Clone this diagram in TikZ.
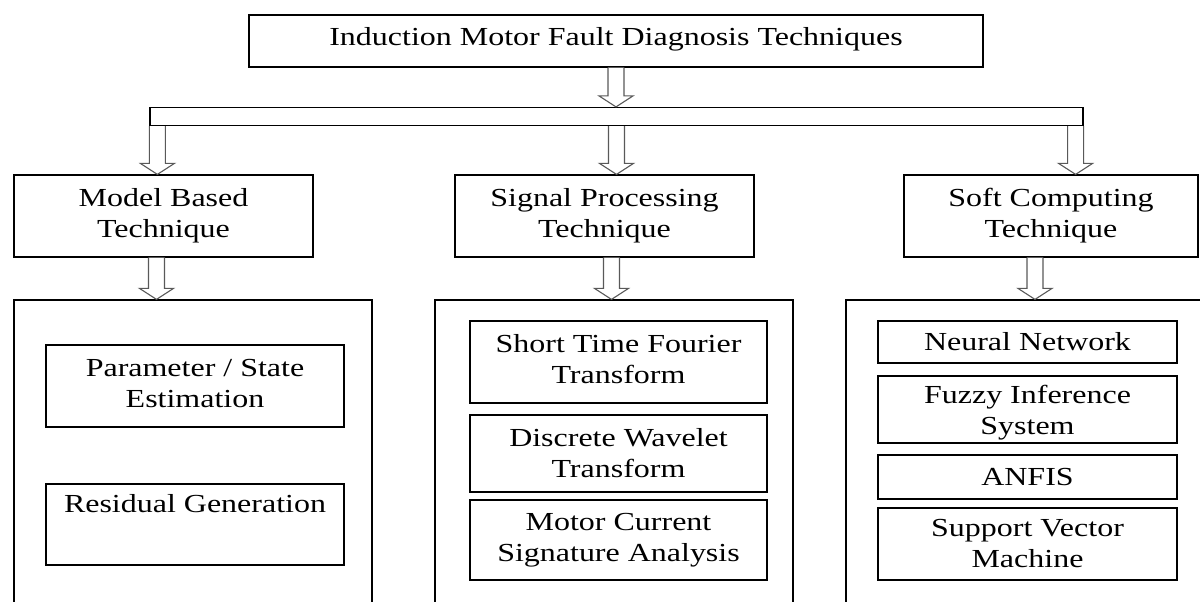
\documentclass[tikz,border=0pt]{standalone}
\usepackage{fontspec}
\setmainfont{Liberation Serif}[FakeStretch=1.23]
\usetikzlibrary{calc}

% hollow downward block arrow: x taken from #1, tip at the y of #2
\newcommand\harrow[2]{%
  \draw[hollow] let \p1=#1, \p2=#2 in
    (\x1-8,\y1) -- (\x1-8,\y2+11) -- (\x1-17,\y2+11) -- (\x1,\y2)
    -- (\x1+17,\y2+11) -- (\x1+8,\y2+11) -- (\x1+8,\y1);}

\begin{document}
\begin{tikzpicture}[x=1pt,y=-1pt,
  box/.style={draw=black, line width=1.2pt, fill=white, inner sep=0pt,
    align=center, font=\fontsize{26}{31}\selectfont},
  hollow/.style={draw=black!65, line width=1.1pt, fill=white, line join=miter}]
\useasboundingbox (0,0) rectangle (1200,602);
\clip (0,0) rectangle (1200,602);

% title and branching bar
\node[box, minimum width=734, minimum height=52] (root) at (616,41)
  {Induction Motor Fault Diagnosis Techniques\rule[-9pt]{0pt}{1pt}};
\node[box, minimum width=933, minimum height=18] (bar) at (616.5,116.5) {};

% three technique families
\node[box, minimum width=299, minimum height=82] (model) at (163.5,216)
  {Model Based\\Technique};
\node[box, minimum width=299, minimum height=82] (signal) at (604.5,216)
  {Signal Processing\\Technique};
\node[box, minimum width=294, minimum height=82] (soft) at (1051,216)
  {Soft Computing\\Technique};

% panels holding the individual methods
\node[box, minimum width=358, minimum height=330] (pmodel) at (193,465) {};
\node[box, minimum width=358, minimum height=330] (psignal) at (614,465) {};
\node[box, minimum width=374, minimum height=330] (psoft) at (1033,465) {};

% model based methods
\node[box, minimum width=298, minimum height=82] (param) at (195,386)
  {Parameter / State\\Estimation\rule[-6pt]{0pt}{1pt}};
\node[box, minimum width=298, minimum height=81] (resid) at (195,524.5)
  {Residual Generation\\[12pt]~};

% signal processing methods
\node[box, minimum width=297, minimum height=82] (stft) at (618.5,362)
  {Short Time Fourier\\Transform\rule[-6pt]{0pt}{1pt}};
\node[box, minimum width=297, minimum height=77] (dwt) at (618.5,453.5)
  {Discrete Wavelet\\Transform};
\node[box, minimum width=297, minimum height=80] (mcsa) at (618.5,540)
  {Motor Current\\Signature Analysis};

% soft computing methods
\node[box, minimum width=299, minimum height=42] (nn) at (1027.5,342)
  {Neural Network};
\node[box, minimum width=299, minimum height=67] (fis) at (1027.5,409.5)
  {\rule{0pt}{24pt}Fuzzy Inference\\System};
\node[box, minimum width=299, minimum height=44] (anfis) at (1027.5,477)
  {ANFIS};
\node[box, minimum width=299, minimum height=72] (svm) at (1027.5,544)
  {Support Vector\\Machine};

% block arrows
\harrow{(root.south)}{(bar.north)}
\harrow{($(bar.south west)+(8,0)$)}{(model.north)}
\harrow{(bar.south)}{(signal.north)}
\harrow{($(bar.south east)+(-8,0)$)}{(soft.north)}
\harrow{($(model.south)+(-7,0)$)}{(pmodel.north)}
\harrow{($(signal.south)+(7,0)$)}{(psignal.north)}
\harrow{($(soft.south)+(-16,0)$)}{(psoft.north)}
\end{tikzpicture}
\end{document}
